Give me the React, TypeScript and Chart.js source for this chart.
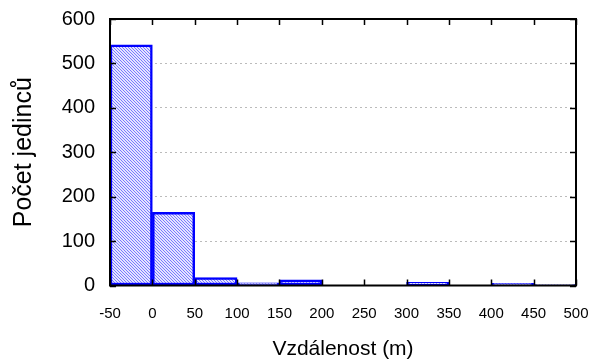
import React, { useEffect, useRef } from "react";
import { Chart, registerables } from "chart.js";

Chart.register(...registerables);

// Histogram bins (left edge, width 50 m)
const binStarts = [-50, 0, 50, 100, 150, 200, 250, 300, 350, 400, 450];
const binWidth = 50;
const counts = [542, 165, 18, 6, 13, 0, 0, 7, 0, 5, 2];
const xTitle = "Vzdálenost (m)";
const yTitle = "Počet jedinců";

function makeHatch(): CanvasPattern | string {
  const c = document.createElement("canvas");
  c.width = 3;
  c.height = 3;
  const ctx = c.getContext("2d");
  if (!ctx) return "#aaaaff";
  ctx.fillStyle = "#e4e4ff";
  ctx.fillRect(0, 0, 3, 3);
  ctx.fillStyle = "#7a7aff";
  for (let i = 0; i < 3; i++) ctx.fillRect(i, i, 1, 1);
  return ctx.createPattern(c, "repeat") || "#aaaaff";
}

const frameTicks = {
  id: "frameTicks",
  afterDatasetsDraw(chart: any) {
    const { ctx, chartArea } = chart;
    const { left, right, top, bottom } = chartArea;
    const xs = chart.scales.x;
    const ys = chart.scales.y;
    const len = 6;
    ctx.save();
    ctx.strokeStyle = "#000";
    ctx.lineWidth = 1.5;
    ctx.beginPath();
    xs.ticks.forEach((t: any) => {
      const px = Math.round(xs.getPixelForValue(t.value)) + 0.5;
      ctx.moveTo(px, bottom);
      ctx.lineTo(px, bottom - len);
      ctx.moveTo(px, top);
      ctx.lineTo(px, top + len);
    });
    ys.ticks.forEach((t: any) => {
      const py = Math.round(ys.getPixelForValue(t.value)) + 0.5;
      ctx.moveTo(left, py);
      ctx.lineTo(left + len, py);
      ctx.moveTo(right, py);
      ctx.lineTo(right - len, py);
    });
    ctx.stroke();
    ctx.lineWidth = 2;
    ctx.strokeRect(left, top, right - left, bottom - top);
    ctx.restore();
  },
};

export default function App() {
  const ref = useRef<HTMLCanvasElement | null>(null);
  useEffect(() => {
    if (!ref.current) return;
    const data = binStarts.map((s, i) => ({ x: s + binWidth / 2, y: counts[i] }));
    const chart = new Chart(ref.current, {
      type: "bar",
      data: {
        datasets: [
          {
            data: data as any,
            backgroundColor: makeHatch() as any,
            borderColor: "#0000ff",
            borderWidth: 2.5,
            borderSkipped: false,
            barPercentage: 1,
            categoryPercentage: 1,
          },
        ],
      },
      options: {
        responsive: false,
        animation: false,
        events: [],
        layout: { padding: { top: 19, right: 16, left: 0, bottom: 0 } },
        plugins: { legend: { display: false }, tooltip: { enabled: false }, title: { display: false } },
        scales: {
          x: {
            type: "linear",
            min: -50,
            max: 500,
            offset: false,
            grid: { display: false, drawTicks: false },
            border: { display: false },
            ticks: {
              stepSize: 50,
              autoSkip: false,
              maxRotation: 0,
              color: "#000",
              padding: 19,
              font: { family: "'Liberation Sans', Arial, sans-serif", size: 15 },
            },
            title: {
              display: true,
              text: xTitle,
              color: "#000",
              padding: { top: 0, bottom: 0 },
              font: { family: "'Liberation Sans', Arial, sans-serif", size: 21, lineHeight: 1 },
            },
            afterFit(scale: any) {
              scale.height = 74.5;
              scale.paddingLeft = 0;
              scale.paddingRight = 0;
            },
          },
          y: {
            min: 0,
            max: 600,
            grid: { color: "#bbbbbb", lineWidth: 1, drawTicks: false },
            border: { display: false, dash: [2, 3] },
            ticks: {
              stepSize: 100,
              color: "#000",
              padding: 15,
              font: { family: "'Liberation Sans', Arial, sans-serif", size: 20 },
            },
            title: {
              display: true,
              text: yTitle,
              color: "#000",
              padding: { top: 12, bottom: 0 },
              font: { family: "'Liberation Sans', Arial, sans-serif", size: 25, lineHeight: 1 },
            },
            afterFit(scale: any) {
              scale.width = 110;
              scale.paddingTop = 0;
              scale.paddingBottom = 0;
            },
          },
        },
      },
      plugins: [frameTicks],
    });
    return () => chart.destroy();
  }, []);
  return (
    <div style={{ position: "absolute", left: 0, top: 0, width: 592, height: 360, background: "#fff" }}>
      <canvas ref={ref} width={592} height={360} style={{ display: "block" }} />
    </div>
  );
}
